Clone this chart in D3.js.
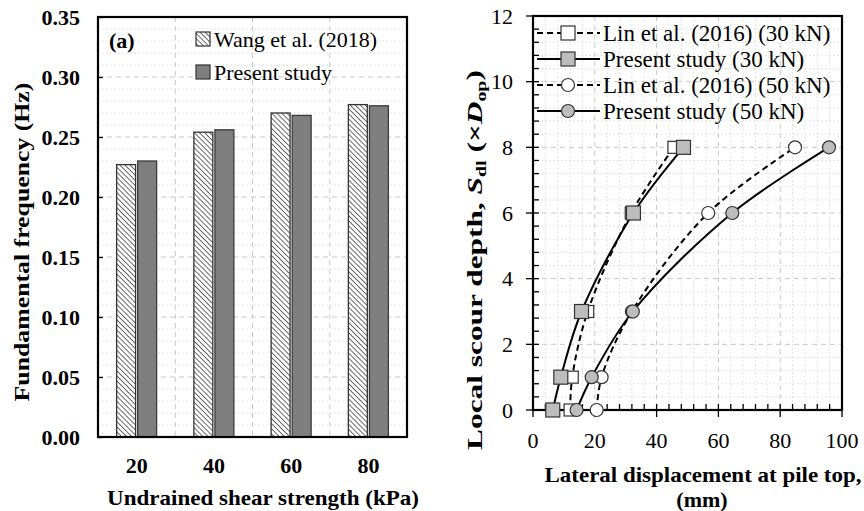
<!DOCTYPE html>
<html>
<head>
<meta charset="utf-8">
<script src="https://cdn.jsdelivr.net/npm/d3@7"></script>
<style>
  html, body { margin: 0; padding: 0; background: #fff; }
  svg { display: block; }
  text { font-family: "Liberation Serif", "Times New Roman", serif; fill: #000; }
</style>
</head>
<body>
<svg id="chart" width="864" height="511"></svg>
<script>
// ---- (a) fundamental frequency vs undrained shear strength ----
const strengths = [20, 40, 60, 80];
const wangFreq = [0.227, 0.254, 0.270, 0.277];
const presentFreq = [0.230, 0.256, 0.268, 0.276];
const freqTicks = [0.00, 0.05, 0.10, 0.15, 0.20, 0.25, 0.30, 0.35];
const barSeries = ["Wang et al. (2018)", "Present study"];

// ---- (b) scour depth vs lateral displacement ----
const depths = [0, 1, 3, 6, 8];
const lin30 = [12.0, 12.7, 17.7, 31.8, 45.6];
const present30 = [6.4, 9.0, 15.7, 32.5, 48.7];
const lin50 = [20.6, 22.2, 32.0, 56.7, 84.8];
const present50 = [14.1, 19.0, 32.3, 64.5, 95.8];
const dispTicks = [0, 20, 40, 60, 80, 100];
const depthTicks = [0, 2, 4, 6, 8, 10, 12];
const lineSeries = [
  { name: "Lin et al. (2016) (30 kN)", x: lin30, marker: "square", filled: false, dashed: true },
  { name: "Present study (30 kN)", x: present30, marker: "square", filled: true, dashed: false },
  { name: "Lin et al. (2016) (50 kN)", x: lin50, marker: "circle", filled: false, dashed: true },
  { name: "Present study (50 kN)", x: present50, marker: "circle", filled: true, dashed: false }
];

const svg = d3.select("#chart");
const FS = 22;

// rotated axis title, stretched along its length to a given span
function verticalTitle(parent, cx, cy, span) {
  const t = parent.append("text").attr("dy", "0.35em")
    .attr("text-anchor", "middle").attr("font-size", FS).attr("font-weight", "bold");
  return {
    t,
    fit() {
      const w = t.node().getBBox().width;
      t.attr("transform", `translate(${cx},${cy}) rotate(-90) scale(${span / w},1)`);
    }
  };
}

// hatch fill for the reference bars
const defs = svg.append("defs");
const pat = defs.append("pattern")
  .attr("id", "hatch").attr("patternUnits", "userSpaceOnUse")
  .attr("width", 3.6).attr("height", 3.6)
  .attr("patternTransform", "rotate(-45)");
pat.append("rect").attr("width", 3.6).attr("height", 3.6).attr("fill", "#fff");
pat.append("line").attr("x1", 0).attr("y1", 0).attr("x2", 0).attr("y2", 3.6)
  .attr("stroke", "#3a3a3a").attr("stroke-width", 1.5);

// =============== Panel (a) ===============
const A = { left: 98, right: 407, top: 17, bottom: 437 };
const xA = d3.scaleBand().domain(strengths).range([A.left, A.right]);
const yA = d3.scaleLinear().domain([0, 0.35]).range([A.bottom, A.top]);
const gA = svg.append("g");

// minor horizontal grid
gA.append("g").selectAll("line")
  .data(d3.range(0.01, 0.35, 0.01).filter(v => Math.abs(v / 0.05 - Math.round(v / 0.05)) > 1e-6))
  .join("line")
  .attr("x1", A.left).attr("x2", A.right)
  .attr("y1", d => yA(d)).attr("y2", d => yA(d))
  .attr("stroke", "#e4e4e4").attr("stroke-width", 1).attr("stroke-dasharray", "2,2");
// major horizontal grid
gA.append("g").selectAll("line")
  .data(freqTicks.slice(1, -1))
  .join("line")
  .attr("x1", A.left).attr("x2", A.right)
  .attr("y1", d => yA(d)).attr("y2", d => yA(d))
  .attr("stroke", "#c8c8c8").attr("stroke-width", 1).attr("stroke-dasharray", "5,4");
// vertical grid between categories
gA.append("g").selectAll("line")
  .data(strengths.slice(1))
  .join("line")
  .attr("x1", d => xA(d)).attr("x2", d => xA(d))
  .attr("y1", A.top).attr("y2", A.bottom)
  .attr("stroke", "#c8c8c8").attr("stroke-width", 1).attr("stroke-dasharray", "5,4");

// bars
const barData = strengths.map((s, i) => ({ s, vals: [wangFreq[i], presentFreq[i]] }));
const groups = gA.append("g").selectAll("g").data(barData).join("g");
groups.each(function (d) {
  const c = xA(d.s) + xA.bandwidth() / 2;
  const inner = d3.scaleBand().domain(barSeries).range([c - 20, c + 20]).paddingInner(0.1);
  d3.select(this).selectAll("rect").data(d.vals).join("rect")
    .attr("x", (v, j) => inner(barSeries[j]))
    .attr("width", inner.bandwidth())
    .attr("y", v => yA(v))
    .attr("height", v => yA(0) - yA(v))
    .attr("fill", (v, j) => j === 0 ? "url(#hatch)" : "#7f7f7f")
    .attr("stroke", (v, j) => j === 0 ? "#333" : "#3a3a3a")
    .attr("stroke-width", 1.3);
});

// y axis of (a): ticks inside
const axA = gA.append("g").attr("transform", `translate(${A.left},0)`)
  .call(d3.axisRight(yA).tickValues(freqTicks).tickSize(5).tickFormat(""));
axA.select(".domain").remove();
axA.selectAll("line").attr("stroke", "#000").attr("stroke-width", 1.3);
gA.append("g").selectAll("text").data(freqTicks).join("text")
  .attr("x", A.left - 18).attr("y", d => yA(d)).attr("dy", "0.35em")
  .attr("text-anchor", "end").attr("font-size", FS).attr("font-weight", "bold")
  .text(d => d3.format(".2f")(d));
// x labels of (a)
gA.append("g").selectAll("text").data(strengths).join("text")
  .attr("x", d => xA(d) + xA.bandwidth() / 2).attr("y", A.bottom + 28).attr("dy", "0.35em")
  .attr("text-anchor", "middle").attr("font-size", FS).attr("font-weight", "bold")
  .text(d => d);

// frame
gA.append("rect").attr("x", A.left).attr("y", A.top)
  .attr("width", A.right - A.left).attr("height", A.bottom - A.top)
  .attr("fill", "none").attr("stroke", "#000").attr("stroke-width", 2.2);

// titles
gA.append("text").attr("x", 263).attr("y", 497).attr("dy", "0.35em")
  .attr("text-anchor", "middle").attr("font-size", FS).attr("font-weight", "bold")
  .attr("textLength", 312).attr("lengthAdjust", "spacingAndGlyphs")
  .text("Undrained shear strength (kPa)");
const ytA = verticalTitle(gA, 21, 242, 319);
ytA.t.text("Fundamental frequency (Hz)");
ytA.fit();
gA.append("text").attr("x", 109).attr("y", 40).attr("dy", "0.35em")
  .attr("font-size", FS).attr("font-weight", "bold").text("(a)");

// legend of (a)
const legA = gA.append("g").selectAll("g").data(barSeries).join("g")
  .attr("transform", (d, i) => `translate(196,${39 + i * 33})`);
legA.append("rect").attr("x", 0).attr("y", -7).attr("width", 14).attr("height", 14)
  .attr("fill", (d, i) => i === 0 ? "url(#hatch)" : "#7f7f7f")
  .attr("stroke", "#333").attr("stroke-width", 1.2);
legA.append("text").attr("x", 18).attr("y", 0).attr("dy", "0.35em")
  .attr("font-size", FS).text(d => d);

// =============== Panel (b) ===============
const B = { left: 533, right: 842, top: 16, bottom: 410 };
const xB = d3.scaleLinear().domain([0, 100]).range([B.left, B.right]);
const yB = d3.scaleLinear().domain([0, 12]).range([B.bottom, B.top]);
const gB = svg.append("g");

const minorX = d3.range(4, 100, 4).filter(v => v % 20 !== 0);
const minorY = d3.range(1, 30).map(k => k * 0.4).filter(v => Math.abs(v / 2 - Math.round(v / 2)) > 1e-6);

// minor grid
gB.append("g").selectAll("line").data(minorX).join("line")
  .attr("x1", d => xB(d)).attr("x2", d => xB(d)).attr("y1", B.top).attr("y2", B.bottom)
  .attr("stroke", "#e4e4e4").attr("stroke-dasharray", "2,2");
gB.append("g").selectAll("line").data(minorY).join("line")
  .attr("y1", d => yB(d)).attr("y2", d => yB(d)).attr("x1", B.left).attr("x2", B.right)
  .attr("stroke", "#e4e4e4").attr("stroke-dasharray", "2,2");
// major grid
gB.append("g").selectAll("line").data(dispTicks.slice(1, -1)).join("line")
  .attr("x1", d => xB(d)).attr("x2", d => xB(d)).attr("y1", B.top).attr("y2", B.bottom)
  .attr("stroke", "#c8c8c8").attr("stroke-dasharray", "5,4");
gB.append("g").selectAll("line").data(depthTicks.slice(1, -1)).join("line")
  .attr("y1", d => yB(d)).attr("y2", d => yB(d)).attr("x1", B.left).attr("x2", B.right)
  .attr("stroke", "#c8c8c8").attr("stroke-dasharray", "5,4");

// frame
gB.append("rect").attr("x", B.left).attr("y", B.top)
  .attr("width", B.right - B.left).attr("height", B.bottom - B.top)
  .attr("fill", "none").attr("stroke", "#000").attr("stroke-width", 2.2);

// ticks: major cross the axis, minor point inward
const tk = gB.append("g").attr("stroke", "#000").attr("stroke-width", 1.3);
tk.selectAll(".mx").data(dispTicks).join("line").attr("class", "mx")
  .attr("x1", d => xB(d)).attr("x2", d => xB(d)).attr("y1", B.bottom - 6).attr("y2", B.bottom + 7);
tk.selectAll(".nx").data(minorX).join("line").attr("class", "nx")
  .attr("x1", d => xB(d)).attr("x2", d => xB(d)).attr("y1", B.bottom - 6).attr("y2", B.bottom);
tk.selectAll(".my").data(depthTicks).join("line").attr("class", "my")
  .attr("y1", d => yB(d)).attr("y2", d => yB(d)).attr("x1", B.left - 7).attr("x2", B.left + 6);
tk.selectAll(".ny").data(minorY).join("line").attr("class", "ny")
  .attr("y1", d => yB(d)).attr("y2", d => yB(d)).attr("x1", B.left).attr("x2", B.left + 6);

// tick labels
gB.append("g").selectAll("text").data(dispTicks).join("text")
  .attr("x", d => xB(d)).attr("y", B.bottom + 30).attr("dy", "0.35em")
  .attr("text-anchor", "middle").attr("font-size", FS).text(d => d);
gB.append("g").selectAll("text").data(depthTicks).join("text")
  .attr("x", B.left - 20).attr("y", d => yB(d)).attr("dy", "0.35em")
  .attr("text-anchor", "end").attr("font-size", FS).text(d => d);

// axis titles
gB.append("text").attr("x", 703).attr("y", 474).attr("dy", "0.35em")
  .attr("text-anchor", "middle").attr("font-size", FS).attr("font-weight", "bold")
  .attr("textLength", 317).attr("lengthAdjust", "spacingAndGlyphs")
  .text("Lateral displacement at pile top,");
gB.append("text").attr("x", 702).attr("y", 499).attr("dy", "0.35em")
  .attr("text-anchor", "middle").attr("font-size", FS).attr("font-weight", "bold")
  .text("(mm)");
const ytB = verticalTitle(gB, 474, 260, 380);
ytB.t.append("tspan").text("Local scour depth, ");
ytB.t.append("tspan").attr("font-style", "italic").text("S");
ytB.t.append("tspan").attr("font-size", 14).attr("dy", "0.3em").text("dl");
ytB.t.append("tspan").attr("dy", "-0.2em").text(" (×");
ytB.t.append("tspan").attr("font-style", "italic").text("D");
ytB.t.append("tspan").attr("font-size", 14).attr("dy", "0.3em").text("op");
ytB.t.append("tspan").attr("dy", "-0.2em").text(")");
ytB.fit();

// curves
const line = d3.line().x(d => xB(d[0])).y(d => yB(d[1])).curve(d3.curveCatmullRom.alpha(0.5));
function drawMarker(sel, s, cx, cy, size) {
  const fill = s.filled ? "#bdbdbd" : "#fff";
  if (s.marker === "square") {
    sel.append("rect").attr("x", cx - size / 2).attr("y", cy - size / 2)
      .attr("width", size).attr("height", size)
      .attr("fill", fill).attr("stroke", "#333").attr("stroke-width", 1.2);
  } else {
    sel.append("circle").attr("cx", cx).attr("cy", cy).attr("r", size / 2)
      .attr("fill", fill).attr("stroke", "#333").attr("stroke-width", 1.2);
  }
}
lineSeries.forEach(s => {
  const pts = s.x.map((v, i) => [v, depths[i]]);
  const g = gB.append("g");
  g.append("path").attr("d", line(pts)).attr("fill", "none")
    .attr("stroke", "#000").attr("stroke-width", 2)
    .attr("stroke-dasharray", s.dashed ? "6,4" : null);
  pts.forEach(p => drawMarker(g, s, xB(p[0]), yB(p[1]), s.marker === "square" ? (s.filled ? 14 : 12) : 13));
});

// legend of (b)
lineSeries.forEach((s, i) => {
  const y = 33 + i * 26;
  const g = gB.append("g");
  g.append("line").attr("x1", 537).attr("x2", 600).attr("y1", y).attr("y2", y)
    .attr("stroke", "#000").attr("stroke-width", 2).attr("stroke-dasharray", s.dashed ? "6,4" : null);
  drawMarker(g, s, 568, y, s.marker === "square" ? 14 : 13);
  g.append("text").attr("x", 603).attr("y", y).attr("dy", "0.35em")
    .attr("font-size", 23).text(s.name);
});
</script>
</body>
</html>
